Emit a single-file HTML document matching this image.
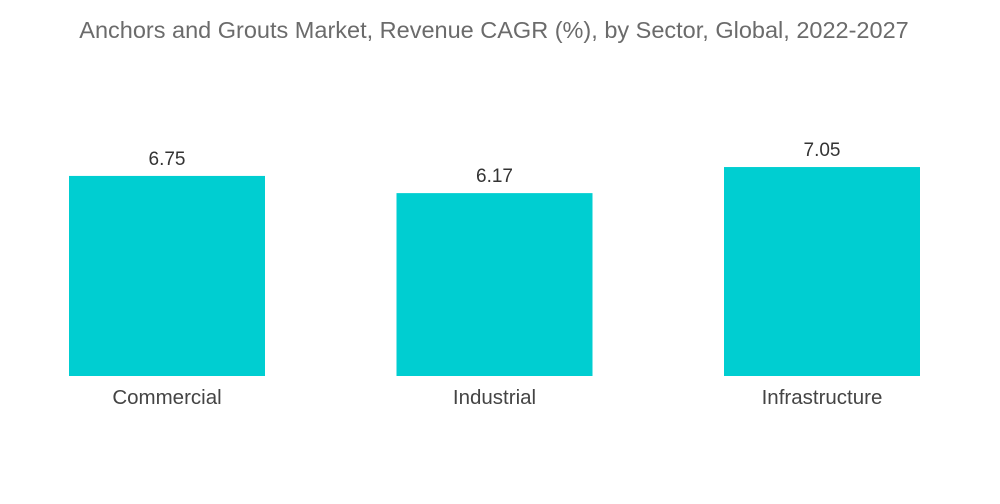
<!DOCTYPE html>
<html><head><meta charset="utf-8"><style>
html,body{margin:0;padding:0;background:#fff;width:1000px;height:504px;overflow:hidden}
svg text{font-family:"Liberation Sans",sans-serif}
</style></head><body>
<svg id="chart" width="1000" height="504">
<text x="494" y="38" text-anchor="middle" font-size="23.5" fill="#6b6b6b">Anchors and Grouts Market, Revenue CAGR (%), by Sector, Global, 2022-2027</text>
<g id="bars"></g>
</svg>
<script>
const categories = ["Commercial", "Industrial", "Infrastructure"];
const values = [6.75, 6.17, 7.05];
const valueLabels = ["6.75", "6.17", "7.05"];

const baseY = 376, pxPerUnit = 29.64;
const y = v => baseY - v * pxPerUnit;
const x0 = 69, step = 327.5, bw = 196;
const x = i => x0 + i * step;
const ns = "http://www.w3.org/2000/svg";
const g = document.getElementById("bars");
categories.forEach((c, i) => {
  const r = document.createElementNS(ns, "rect");
  r.setAttribute("x", x(i)); r.setAttribute("y", y(values[i]));
  r.setAttribute("width", bw); r.setAttribute("height", baseY - y(values[i]));
  r.setAttribute("fill", "#00ced1");
  
  
  g.appendChild(r);
  const t = document.createElementNS(ns, "text");
  t.setAttribute("x", x(i) + bw / 2); t.setAttribute("y", y(values[i]) - 11);
  t.setAttribute("text-anchor", "middle"); t.setAttribute("font-size", "19"); t.setAttribute("fill", "#333");
  t.textContent = valueLabels[i];
  
  
  g.appendChild(t);
  const l = document.createElementNS(ns, "text");
  l.setAttribute("x", x(i) + bw / 2); l.setAttribute("y", 404);
  l.setAttribute("text-anchor", "middle"); l.setAttribute("font-size", "20.5"); l.setAttribute("fill", "#444");
  l.textContent = c;
  
  
  g.appendChild(l);
});
</script>
</body></html>
